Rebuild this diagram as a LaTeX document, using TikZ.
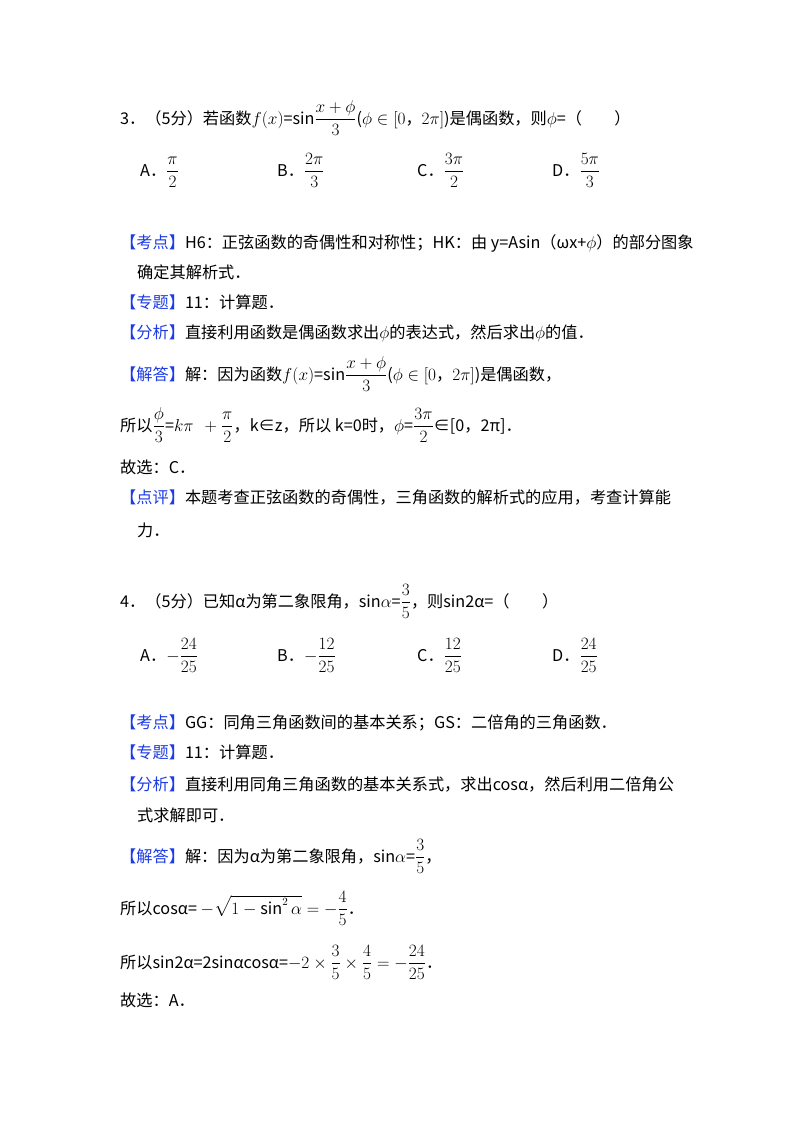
\documentclass[tikz,border=0pt]{standalone}
\usepackage{amsmath}
\usepackage{fontspec}
\setmainfont{Noto Sans CJK SC}
\definecolor{lab}{RGB}{30,60,230}
\newcommand{\lb}[1]{\textcolor{lab}{【#1】}}
\begin{document}
\begin{tikzpicture}[x=1pt,y=-1pt,t/.style={anchor=base west,inner sep=0pt,font=\fontsize{16.2}{19}\selectfont}]
\useasboundingbox[fill=white] (0,0) rectangle (800,1132);
\node[t] (l1) at (120,124) {3．（5分）若函数$f(x)$=sin$\dfrac{x+\phi}{3}$($\phi\in[0，2\pi]$)是偶函数，则$\phi$=（　　）};
\node[t] (a1) at (140,176) {A．$\dfrac{\pi}{2}$};
\node[t] (b1) at (277,176) {B．$\dfrac{2\pi}{3}$};
\node[t] (c1) at (417,176) {C．$\dfrac{3\pi}{2}$};
\node[t] (d1) at (552,176) {D．$\dfrac{5\pi}{3}$};
\node[t] (k1) at (120,248) {\lb{考点}H6：正弦函数的奇偶性和对称性；HK：由 y=Asin（ωx+$\phi$）的部分图象};
\node[t] (k1b) at (137,278) {确定其解析式．};
\node[t] (z1) at (120,308) {\lb{专题}11：计算题．};
\node[t] (f1) at (120,338) {\lb{分析}直接利用函数是偶函数求出$\phi$的表达式，然后求出$\phi$的值．};
\node[t] (j1) at (120,380) {\lb{解答}解：因为函数$f(x)$=sin$\dfrac{x+\phi}{3}$($\phi\in[0，2\pi]$)是偶函数，};
\node[t] (s1) at (120,431) {所以$\dfrac{\phi}{3}$=$k\pi\ \ +\dfrac{\pi}{2}$，k∈z，所以 k=0时，$\phi$=$\dfrac{3\pi}{2}$∈[0，2π]．};
\node[t] (g1) at (120,473) {故选：C．};
\node[t] (p1) at (120,503) {\lb{点评}本题考查正弦函数的奇偶性，三角函数的解析式的应用，考查计算能};
\node[t] (p1b) at (137,536) {力．};
\node[t] (l2) at (120,607) {4．（5分）已知α为第二象限角，sin$\alpha$=$\dfrac{3}{5}$，则sin2α=（　　）};
\node[t] (a2) at (140,661) {A．$-\dfrac{24}{25}$};
\node[t] (b2) at (277,661) {B．$-\dfrac{12}{25}$};
\node[t] (c2) at (417,661) {C．$\dfrac{12}{25}$};
\node[t] (d2) at (552,661) {D．$\dfrac{24}{25}$};
\node[t] (k2) at (120,728) {\lb{考点}GG：同角三角函数间的基本关系；GS：二倍角的三角函数．};
\node[t] (z2) at (120,758) {\lb{专题}11：计算题．};
\node[t] (f2) at (120,790) {\lb{分析}直接利用同角三角函数的基本关系式，求出cosα，然后利用二倍角公};
\node[t] (f2b) at (137,821) {式求解即可．};
\node[t] (j2) at (120,862) {\lb{解答}解：因为α为第二象限角，sin$\alpha$=$\dfrac{3}{5}$，};
\node[t] (s2) at (120,914) {所以cosα= $-\sqrt{1-\sin^2\alpha}=-\dfrac{4}{5}$．};
\node[t] (t2) at (120,968) {所以sin2α=2sinαcosα=$-2\times\dfrac{3}{5}\times\dfrac{4}{5}=-\dfrac{24}{25}$．};
\node[t] (g2) at (120,1006) {故选：A．};
\end{tikzpicture}
\end{document}
